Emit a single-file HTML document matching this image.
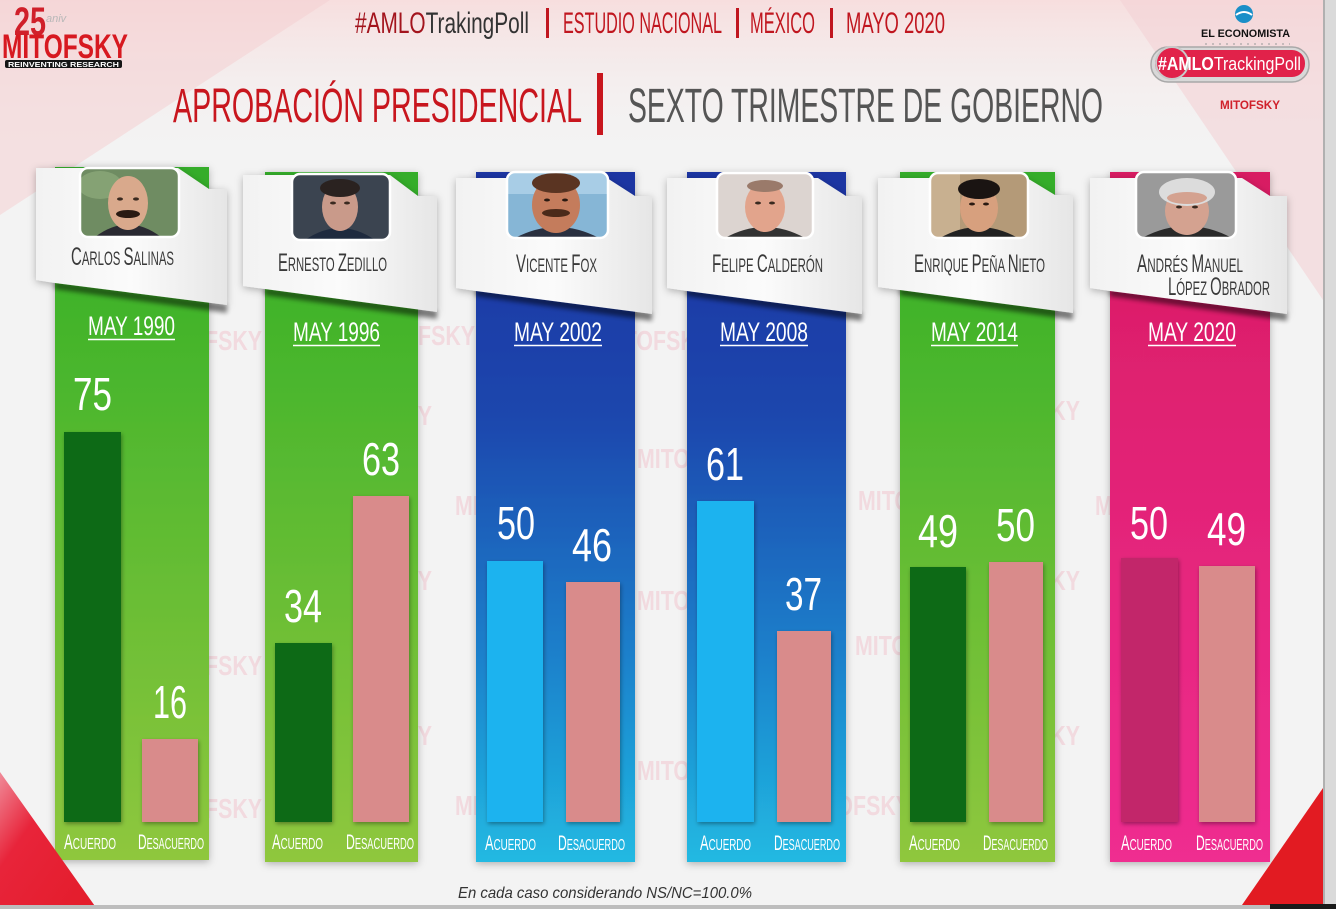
<!DOCTYPE html>
<html><head><meta charset="utf-8">
<style>
html,body{margin:0;padding:0;width:1336px;height:909px;overflow:hidden;background:#f3f3f3}
svg{display:block}
text{font-family:"Liberation Sans Narrow","Liberation Sans",sans-serif}
</style></head><body>
<svg width="1336" height="909" viewBox="0 0 1336 909" xmlns="http://www.w3.org/2000/svg">
<defs>
 <linearGradient id="gGreen" gradientUnits="userSpaceOnUse" x1="0" y1="172" x2="0" y2="861">
  <stop offset="0" stop-color="#34ad2a"/><stop offset="0.25" stop-color="#46b52c"/><stop offset="1" stop-color="#8fc73e"/>
 </linearGradient>
 <linearGradient id="gBlue" gradientUnits="userSpaceOnUse" x1="0" y1="172" x2="0" y2="861">
  <stop offset="0" stop-color="#1a34a2"/><stop offset="0.35" stop-color="#1a46ad"/><stop offset="0.7" stop-color="#1a80cb"/><stop offset="1" stop-color="#22b9e2"/>
 </linearGradient>
 <linearGradient id="gPink" gradientUnits="userSpaceOnUse" x1="0" y1="172" x2="0" y2="861">
  <stop offset="0" stop-color="#d81b62"/><stop offset="1" stop-color="#ef2d90"/>
 </linearGradient>
 <linearGradient id="gCard" x1="0" y1="0" x2="1" y2="0">
  <stop offset="0" stop-color="#f2f2f2"/><stop offset="0.5" stop-color="#fbfbfb"/><stop offset="1" stop-color="#e6e6e6"/>
 </linearGradient>
 <linearGradient id="gTop" x1="0" y1="0" x2="0" y2="1">
  <stop offset="0" stop-color="#f7dede"/><stop offset="1" stop-color="#f3f3f3" stop-opacity="0"/>
 </linearGradient>
 <linearGradient id="gRedL" x1="0" y1="0" x2="1" y2="1">
  <stop offset="0" stop-color="#f08a98"/><stop offset="0.35" stop-color="#e8243a"/><stop offset="1" stop-color="#e31c2a"/>
 </linearGradient>
 <filter id="sh" x="-20%" y="-10%" width="140%" height="120%"><feDropShadow dx="0" dy="2" stdDeviation="4" flood-color="#000" flood-opacity=".28"/></filter>
 <filter id="shs" x="-20%" y="-20%" width="140%" height="140%"><feDropShadow dx="1" dy="2" stdDeviation="2" flood-color="#000" flood-opacity=".35"/></filter>
 <filter id="bl" x="-10%" y="-50%" width="120%" height="200%"><feGaussianBlur stdDeviation="2.5"/></filter>
 <clipPath id="c1"><rect x="80" y="168" width="99" height="69" rx="8"/></clipPath>
 <clipPath id="c2"><rect x="292" y="174" width="98" height="66" rx="8"/></clipPath>
 <clipPath id="c3"><rect x="507" y="172" width="101" height="66" rx="8"/></clipPath>
 <clipPath id="c4"><rect x="717" y="173" width="96" height="65" rx="8"/></clipPath>
 <clipPath id="c5"><rect x="930" y="173" width="98" height="65" rx="8"/></clipPath>
 <clipPath id="c6"><rect x="1136" y="172" width="100" height="66" rx="8"/></clipPath>
</defs>

<!-- background -->
<rect x="0" y="0" width="1336" height="909" fill="#f3f3f3"/>
<rect x="0" y="0" width="1336" height="160" fill="url(#gTop)"/>
<polygon points="0,0 330,0 0,215" fill="#f4cfd2" opacity="0.55"/>
<polygon points="1120,0 1323,0 1323,300" fill="#f4d2d5" opacity="0.6"/>

<!-- watermarks -->
<g font-weight="bold" font-size="28" fill="#f2bcc8" opacity="0.45">
 <text x="152" y="350" textLength="110" lengthAdjust="spacingAndGlyphs">MITOFSKY</text>
 <text x="152" y="675" textLength="110" lengthAdjust="spacingAndGlyphs">MITOFSKY</text>
 <text x="152" y="818" textLength="110" lengthAdjust="spacingAndGlyphs">MITOFSKY</text>
 <text x="365" y="345" textLength="110" lengthAdjust="spacingAndGlyphs">MITOFSKY</text>
 <text x="322" y="425" textLength="110" lengthAdjust="spacingAndGlyphs">MITOFSKY</text>
 <text x="322" y="590" textLength="110" lengthAdjust="spacingAndGlyphs">MITOFSKY</text>
 <text x="322" y="745" textLength="110" lengthAdjust="spacingAndGlyphs">MITOFSKY</text>
 <text x="455" y="515" textLength="110" lengthAdjust="spacingAndGlyphs">MITOFSKY</text>
 <text x="455" y="815" textLength="110" lengthAdjust="spacingAndGlyphs">MITOFSKY</text>
 <text x="600" y="350" textLength="110" lengthAdjust="spacingAndGlyphs">MITOFSKY</text>
 <text x="637" y="468" textLength="110" lengthAdjust="spacingAndGlyphs">MITOFSKY</text>
 <text x="637" y="610" textLength="110" lengthAdjust="spacingAndGlyphs">MITOFSKY</text>
 <text x="637" y="780" textLength="110" lengthAdjust="spacingAndGlyphs">MITOFSKY</text>
 <text x="858" y="510" textLength="110" lengthAdjust="spacingAndGlyphs">MITOFSKY</text>
 <text x="855" y="655" textLength="110" lengthAdjust="spacingAndGlyphs">MITOFSKY</text>
 <text x="800" y="815" textLength="110" lengthAdjust="spacingAndGlyphs">MITOFSKY</text>
 <text x="970" y="420" textLength="110" lengthAdjust="spacingAndGlyphs">MITOFSKY</text>
 <text x="970" y="590" textLength="110" lengthAdjust="spacingAndGlyphs">MITOFSKY</text>
 <text x="970" y="745" textLength="110" lengthAdjust="spacingAndGlyphs">MITOFSKY</text>
 <text x="1095" y="515" textLength="110" lengthAdjust="spacingAndGlyphs">MITOFSKY</text>
</g>

<!-- top-left logo -->
<text x="14" y="35" font-size="40" font-weight="bold" fill="#d0202a" textLength="32" lengthAdjust="spacingAndGlyphs">25</text>
<text x="46" y="22" font-size="11" font-style="italic" fill="#b8b8b8">aniv</text>
<text x="2" y="58" font-size="34" font-weight="bold" fill="#d71920" textLength="126" lengthAdjust="spacingAndGlyphs">MITOFSKY</text>
<rect x="5" y="60" width="117" height="8" rx="2" fill="#151515"/>
<text x="8" y="67" font-size="7" font-weight="bold" fill="#fff" textLength="111" lengthAdjust="spacingAndGlyphs">REINVENTING RESEARCH</text>

<!-- header line -->
<text x="355" y="33" font-size="30" textLength="174" lengthAdjust="spacingAndGlyphs"><tspan fill="#a3141d">#AMLO</tspan><tspan fill="#333">TrakingPoll</tspan></text>
<rect x="546" y="8" width="3" height="30" fill="#c0161f"/>
<text x="563" y="33" font-size="30" fill="#c0161f" textLength="159" lengthAdjust="spacingAndGlyphs">ESTUDIO NACIONAL</text>
<rect x="736" y="8" width="3" height="30" fill="#c0161f"/>
<text x="750" y="33" font-size="30" fill="#c0161f" textLength="65" lengthAdjust="spacingAndGlyphs">MÉXICO</text>
<rect x="830" y="8" width="3" height="30" fill="#c0161f"/>
<text x="846" y="33" font-size="30" fill="#c0161f" textLength="99" lengthAdjust="spacingAndGlyphs">MAYO 2020</text>

<!-- title -->
<text x="173" y="122" font-size="48" fill="#c8161e" textLength="409" lengthAdjust="spacingAndGlyphs">APROBACIÓN PRESIDENCIAL</text>
<rect x="597" y="73" width="6" height="62" fill="#c8161e"/>
<text x="628" y="122" font-size="48" fill="#555" textLength="475" lengthAdjust="spacingAndGlyphs">SEXTO TRIMESTRE DE GOBIERNO</text>

<!-- top-right logo -->
<circle cx="1244" cy="14" r="9" fill="#1a8fc8"/>
<path d="M1236,15 q8,-6 16,0" stroke="#fff" stroke-width="2" fill="none"/>
<text x="1201" y="37" font-family="Liberation Serif,serif" font-size="11" font-weight="bold" fill="#111" textLength="89" lengthAdjust="spacingAndGlyphs">EL ECONOMISTA</text>
<line x1="1205" y1="44" x2="1290" y2="44" stroke="#999" stroke-width="1" stroke-dasharray="2,5"/>
<rect x="1151" y="47" width="158" height="35" rx="17" fill="#d8d8d8" stroke="#a8a8a8" stroke-width="1.5"/>
<rect x="1155" y="50" width="150" height="27" rx="13" fill="#e1224a"/>
<circle cx="1172" cy="63" r="16" fill="#e1224a" stroke="#c9c9c9" stroke-width="2"/>
<text x="1158" y="70" font-size="18" fill="#fff" textLength="143" lengthAdjust="spacingAndGlyphs"><tspan font-weight="bold">#AMLO</tspan>TrackingPoll</text>
<text x="1220" y="109" font-size="12" font-weight="bold" fill="#d0202a" textLength="60" lengthAdjust="spacingAndGlyphs">MITOFSKY</text>

<!-- ============ PANEL 1 ============ -->
<rect x="55" y="167" width="154" height="693" fill="url(#gGreen)" filter="url(#sh)"/>
<polygon points="55,283 227,305 227,313 55,289" fill="#000" opacity="0.45" filter="url(#bl)"/>
<polygon points="36,168 178,168 209,189 227,189 227,305 55,283 36,280" fill="url(#gCard)" filter="url(#sh)"/>
<g clip-path="url(#c1)">
 <rect x="80" y="168" width="99" height="69" fill="#6f8c62"/>
 <ellipse cx="100" cy="185" rx="22" ry="14" fill="#85a274"/>
 <path d="M95,237 q33,-25 66,0 z" fill="#2a2a32"/>
 <ellipse cx="128" cy="203" rx="20" ry="27" fill="#d9a98c"/>
 <ellipse cx="128" cy="214" rx="12" ry="4" fill="#2a1a12"/>
 <ellipse cx="120" cy="199" rx="3" ry="1.6" fill="#3a2a20"/><ellipse cx="136" cy="199" rx="3" ry="1.6" fill="#3a2a20"/>
</g>
<rect x="80" y="168" width="99" height="69" rx="8" fill="none" stroke="#fff" stroke-width="2.5"/>
<text x="71" y="265" font-size="19" fill="#3a3a3a" textLength="103" lengthAdjust="spacingAndGlyphs"><tspan font-size="25">C</tspan>ARLOS <tspan font-size="25">S</tspan>ALINAS</text>
<text x="88" y="335" font-size="27" fill="#fff" textLength="87" lengthAdjust="spacingAndGlyphs">MAY 1990</text>
<line x1="88" y1="339.5" x2="175" y2="339.5" stroke="#fff" stroke-width="1.6"/>
<rect x="64" y="432" width="57" height="390" fill="#0e6b16" filter="url(#shs)"/>
<rect x="142" y="739" width="56" height="83" fill="#d98b8b" filter="url(#shs)"/>
<text x="73" y="410" font-size="46" fill="#fff" textLength="39" lengthAdjust="spacingAndGlyphs">75</text>
<text x="153" y="718" font-size="46" fill="#fff" textLength="34" lengthAdjust="spacingAndGlyphs">16</text>
<text x="64" y="849" font-size="16" fill="#fff" textLength="52" lengthAdjust="spacingAndGlyphs"><tspan font-size="21">A</tspan>CUERDO</text>
<text x="138" y="849" font-size="16" fill="#fff" textLength="66" lengthAdjust="spacingAndGlyphs"><tspan font-size="21">D</tspan>ESACUERDO</text>

<!-- ============ PANEL 2 ============ -->
<rect x="265" y="172" width="153" height="690" fill="url(#gGreen)" filter="url(#sh)"/>
<polygon points="265,289 437,311 437,319 265,295" fill="#000" opacity="0.45" filter="url(#bl)"/>
<polygon points="243,175 390,175 418,196 437,196 437,312 265,289 243,286" fill="url(#gCard)" filter="url(#sh)"/>
<g clip-path="url(#c2)">
 <rect x="292" y="174" width="98" height="66" fill="#3b4450"/>
 <path d="M305,240 q35,-24 70,0 z" fill="#1e2a3e"/>
 <ellipse cx="340" cy="207" rx="18" ry="24" fill="#c99a8a"/>
 <ellipse cx="340" cy="188" rx="20" ry="9" fill="#2a2220"/>
 <ellipse cx="333" cy="203" rx="3" ry="1.5" fill="#3a2a20"/><ellipse cx="347" cy="203" rx="3" ry="1.5" fill="#3a2a20"/>
</g>
<rect x="292" y="174" width="98" height="66" rx="8" fill="none" stroke="#fff" stroke-width="2.5"/>
<text x="278" y="271" font-size="19" fill="#3a3a3a" textLength="109" lengthAdjust="spacingAndGlyphs"><tspan font-size="25">E</tspan>RNESTO <tspan font-size="25">Z</tspan>EDILLO</text>
<text x="293" y="341" font-size="27" fill="#fff" textLength="87" lengthAdjust="spacingAndGlyphs">MAY 1996</text>
<line x1="293" y1="345.5" x2="380" y2="345.5" stroke="#fff" stroke-width="1.6"/>
<rect x="275" y="643" width="57" height="179" fill="#0e6b16" filter="url(#shs)"/>
<rect x="353" y="496" width="56" height="326" fill="#d98b8b" filter="url(#shs)"/>
<text x="284" y="622" font-size="46" fill="#fff" textLength="38" lengthAdjust="spacingAndGlyphs">34</text>
<text x="362" y="475" font-size="46" fill="#fff" textLength="38" lengthAdjust="spacingAndGlyphs">63</text>
<text x="272" y="849" font-size="16" fill="#fff" textLength="51" lengthAdjust="spacingAndGlyphs"><tspan font-size="21">A</tspan>CUERDO</text>
<text x="346" y="849" font-size="16" fill="#fff" textLength="68" lengthAdjust="spacingAndGlyphs"><tspan font-size="21">D</tspan>ESACUERDO</text>

<!-- ============ PANEL 3 ============ -->
<rect x="476" y="172" width="159" height="690" fill="url(#gBlue)" filter="url(#sh)"/>
<polygon points="476,290 652,313 652,321 476,296" fill="#000" opacity="0.45" filter="url(#bl)"/>
<polygon points="456,178 607,178 635,196 652,196 652,314 476,291 456,288" fill="url(#gCard)" filter="url(#sh)"/>
<g clip-path="url(#c3)">
 <rect x="507" y="172" width="101" height="66" fill="#86b6d6"/>
 <rect x="507" y="172" width="101" height="22" fill="#a8cde6"/>
 <path d="M515,238 q42,-22 84,0 z" fill="#2a3040"/>
 <ellipse cx="556" cy="205" rx="24" ry="28" fill="#c47c5c"/>
 <ellipse cx="556" cy="183" rx="24" ry="10" fill="#5a3422"/>
 <ellipse cx="556" cy="213" rx="14" ry="4" fill="#4a2a1a"/>
 <ellipse cx="547" cy="200" rx="3" ry="1.5" fill="#2a1a12"/><ellipse cx="565" cy="200" rx="3" ry="1.5" fill="#2a1a12"/>
</g>
<rect x="507" y="172" width="101" height="66" rx="8" fill="none" stroke="#fff" stroke-width="2.5"/>
<text x="516" y="272" font-size="19" fill="#3a3a3a" textLength="81" lengthAdjust="spacingAndGlyphs"><tspan font-size="25">V</tspan>ICENTE <tspan font-size="25">F</tspan>OX</text>
<text x="514" y="341" font-size="27" fill="#fff" textLength="88" lengthAdjust="spacingAndGlyphs">MAY 2002</text>
<line x1="514" y1="345.5" x2="602" y2="345.5" stroke="#fff" stroke-width="1.6"/>
<rect x="487" y="561" width="56" height="261" fill="#1eb3ef" filter="url(#shs)"/>
<rect x="566" y="582" width="54" height="240" fill="#d98b8b" filter="url(#shs)"/>
<text x="497" y="539" font-size="46" fill="#fff" textLength="38" lengthAdjust="spacingAndGlyphs">50</text>
<text x="572" y="561" font-size="46" fill="#fff" textLength="40" lengthAdjust="spacingAndGlyphs">46</text>
<text x="485" y="850" font-size="16" fill="#fff" textLength="51" lengthAdjust="spacingAndGlyphs"><tspan font-size="21">A</tspan>CUERDO</text>
<text x="558" y="850" font-size="16" fill="#fff" textLength="67" lengthAdjust="spacingAndGlyphs"><tspan font-size="21">D</tspan>ESACUERDO</text>

<!-- ============ PANEL 4 ============ -->
<rect x="687" y="172" width="159" height="690" fill="url(#gBlue)" filter="url(#sh)"/>
<polygon points="687,290 862,313 862,321 687,296" fill="#000" opacity="0.45" filter="url(#bl)"/>
<polygon points="667,178 818,178 846,196 862,196 862,314 687,291 667,288" fill="url(#gCard)" filter="url(#sh)"/>
<g clip-path="url(#c4)">
 <rect x="717" y="173" width="96" height="65" fill="#dcd4d0"/>
 <path d="M725,238 q40,-22 80,0 z" fill="#333"/>
 <ellipse cx="765" cy="207" rx="20" ry="25" fill="#e2a48c"/>
 <ellipse cx="765" cy="186" rx="18" ry="6" fill="#9a7a6a"/>
 <ellipse cx="758" cy="203" rx="3" ry="1.5" fill="#3a2a20"/><ellipse cx="772" cy="203" rx="3" ry="1.5" fill="#3a2a20"/>
</g>
<rect x="717" y="173" width="96" height="65" rx="8" fill="none" stroke="#fff" stroke-width="2.5"/>
<text x="712" y="272" font-size="19" fill="#3a3a3a" textLength="111" lengthAdjust="spacingAndGlyphs"><tspan font-size="25">F</tspan>ELIPE <tspan font-size="25">C</tspan>ALDERÓN</text>
<text x="720" y="341" font-size="27" fill="#fff" textLength="88" lengthAdjust="spacingAndGlyphs">MAY 2008</text>
<line x1="720" y1="345.5" x2="808" y2="345.5" stroke="#fff" stroke-width="1.6"/>
<rect x="697" y="501" width="57" height="321" fill="#1eb3ef" filter="url(#shs)"/>
<rect x="777" y="631" width="54" height="191" fill="#d98b8b" filter="url(#shs)"/>
<text x="706" y="480" font-size="46" fill="#fff" textLength="38" lengthAdjust="spacingAndGlyphs">61</text>
<text x="785" y="610" font-size="46" fill="#fff" textLength="37" lengthAdjust="spacingAndGlyphs">37</text>
<text x="700" y="850" font-size="16" fill="#fff" textLength="51" lengthAdjust="spacingAndGlyphs"><tspan font-size="21">A</tspan>CUERDO</text>
<text x="774" y="850" font-size="16" fill="#fff" textLength="66" lengthAdjust="spacingAndGlyphs"><tspan font-size="21">D</tspan>ESACUERDO</text>

<!-- ============ PANEL 5 ============ -->
<rect x="900" y="172" width="155" height="690" fill="url(#gGreen)" filter="url(#sh)"/>
<polygon points="900,289 1073,312 1073,320 900,295" fill="#000" opacity="0.45" filter="url(#bl)"/>
<polygon points="878,178 1027,178 1055,195 1073,195 1073,313 900,290 878,287" fill="url(#gCard)" filter="url(#sh)"/>
<g clip-path="url(#c5)">
 <rect x="930" y="173" width="98" height="65" fill="#b49a78"/>
 <rect x="930" y="173" width="30" height="65" fill="#c8b090"/>
 <path d="M940,238 q39,-22 78,0 z" fill="#222"/>
 <ellipse cx="979" cy="208" rx="19" ry="24" fill="#d7a07e"/>
 <ellipse cx="979" cy="189" rx="21" ry="10" fill="#1a1412"/>
 <ellipse cx="972" cy="204" rx="3" ry="1.5" fill="#2a1a12"/><ellipse cx="986" cy="204" rx="3" ry="1.5" fill="#2a1a12"/>
</g>
<rect x="930" y="173" width="98" height="65" rx="8" fill="none" stroke="#fff" stroke-width="2.5"/>
<text x="914" y="272" font-size="19" fill="#3a3a3a" textLength="131" lengthAdjust="spacingAndGlyphs"><tspan font-size="25">E</tspan>NRIQUE <tspan font-size="25">P</tspan>EÑA <tspan font-size="25">N</tspan>IETO</text>
<text x="931" y="341" font-size="27" fill="#fff" textLength="87" lengthAdjust="spacingAndGlyphs">MAY 2014</text>
<line x1="931" y1="345.5" x2="1018" y2="345.5" stroke="#fff" stroke-width="1.6"/>
<rect x="910" y="567" width="56" height="255" fill="#0e6b16" filter="url(#shs)"/>
<rect x="989" y="562" width="54" height="260" fill="#d98b8b" filter="url(#shs)"/>
<text x="918" y="547" font-size="46" fill="#fff" textLength="40" lengthAdjust="spacingAndGlyphs">49</text>
<text x="996" y="541" font-size="46" fill="#fff" textLength="39" lengthAdjust="spacingAndGlyphs">50</text>
<text x="909" y="850" font-size="16" fill="#fff" textLength="51" lengthAdjust="spacingAndGlyphs"><tspan font-size="21">A</tspan>CUERDO</text>
<text x="983" y="850" font-size="16" fill="#fff" textLength="65" lengthAdjust="spacingAndGlyphs"><tspan font-size="21">D</tspan>ESACUERDO</text>

<!-- ============ PANEL 6 ============ -->
<rect x="1110" y="172" width="160" height="690" fill="url(#gPink)" filter="url(#sh)"/>
<polygon points="1110,290 1287,313 1287,321 1110,296" fill="#000" opacity="0.45" filter="url(#bl)"/>
<polygon points="1090,178 1242,178 1270,196 1287,196 1287,314 1110,291 1090,288" fill="url(#gCard)" filter="url(#sh)"/>
<g clip-path="url(#c6)">
 <rect x="1136" y="172" width="100" height="66" fill="#9a9a9a"/>
 <path d="M1142,238 q45,-24 90,0 z" fill="#2a2a2a"/>
 <ellipse cx="1187" cy="211" rx="22" ry="24" fill="#d4a290"/>
 <ellipse cx="1187" cy="192" rx="28" ry="14" fill="#dcdcdc"/>
 <ellipse cx="1187" cy="198" rx="20" ry="6" fill="#d4a290"/>
 <ellipse cx="1179" cy="207" rx="3" ry="1.5" fill="#3a2a20"/><ellipse cx="1195" cy="207" rx="3" ry="1.5" fill="#3a2a20"/>
</g>
<rect x="1136" y="172" width="100" height="66" rx="8" fill="none" stroke="#fff" stroke-width="2.5"/>
<text x="1137" y="272" font-size="19" fill="#3a3a3a" textLength="106" lengthAdjust="spacingAndGlyphs"><tspan font-size="25">A</tspan>NDRÉS <tspan font-size="25">M</tspan>ANUEL</text>
<text x="1168" y="295" font-size="19" fill="#3a3a3a" textLength="102" lengthAdjust="spacingAndGlyphs"><tspan font-size="25">L</tspan>ÓPEZ <tspan font-size="25">O</tspan>BRADOR</text>
<text x="1148" y="341" font-size="27" fill="#fff" textLength="88" lengthAdjust="spacingAndGlyphs">MAY 2020</text>
<line x1="1148" y1="345.5" x2="1236" y2="345.5" stroke="#fff" stroke-width="1.6"/>
<rect x="1121" y="558" width="57" height="264" fill="#c2286a" filter="url(#shs)"/>
<rect x="1199" y="566" width="56" height="256" fill="#d98b8b" filter="url(#shs)"/>
<text x="1130" y="539" font-size="46" fill="#fff" textLength="38" lengthAdjust="spacingAndGlyphs">50</text>
<text x="1207" y="545" font-size="46" fill="#fff" textLength="39" lengthAdjust="spacingAndGlyphs">49</text>
<text x="1121" y="850" font-size="16" fill="#fff" textLength="51" lengthAdjust="spacingAndGlyphs"><tspan font-size="21">A</tspan>CUERDO</text>
<text x="1196" y="850" font-size="16" fill="#fff" textLength="67" lengthAdjust="spacingAndGlyphs"><tspan font-size="21">D</tspan>ESACUERDO</text>

<!-- footer note -->
<text x="458" y="898" font-family="Liberation Sans,sans-serif" font-style="italic" font-size="16" fill="#333" textLength="294" lengthAdjust="spacingAndGlyphs">En cada caso considerando NS/NC=100.0%</text>

<!-- corner triangles -->
<polygon points="0,772 97,909 0,909" fill="url(#gRedL)"/>
<polygon points="1323,788 1323,905 1242,905" fill="#e21b22"/>

<!-- frame -->
<rect x="1323" y="0" width="13" height="909" fill="#dadada"/>
<rect x="1323" y="0" width="2" height="909" fill="#b0b0b0"/>
<rect x="0" y="905" width="1336" height="4" fill="#bdbdbd"/>
<rect x="1270" y="904" width="66" height="5" fill="#1a1a1a"/>
</svg>
</body></html>
